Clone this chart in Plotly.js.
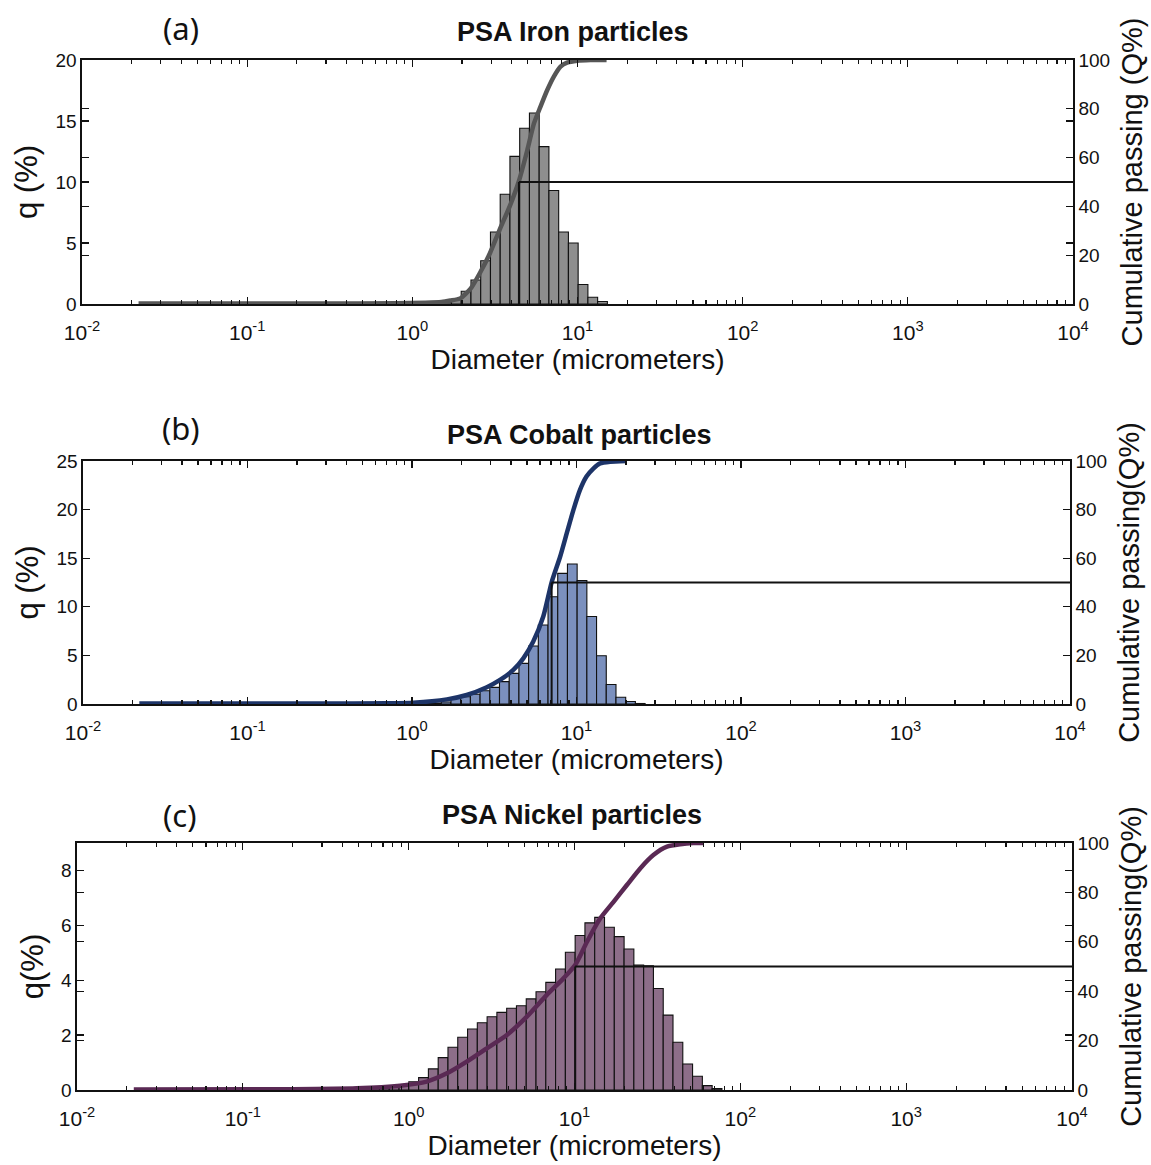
<!DOCTYPE html>
<html>
<head>
<meta charset="utf-8">
<script src="https://cdn.plot.ly/plotly-3.0.1.min.js"></script>
<style>html,body{margin:0;padding:0;background:#fff}</style>
</head>
<body>
<div id="chart" style="width:1151px;height:1165px"></div>
<script>
// ---------------- DATA ----------------
// Shared particle-size bin edges (micrometers)
const binEdges = [0.387,0.444,0.508,0.582,0.667,0.764,0.875,1.002,1.148,1.315,1.507,1.726,1.977,2.265,2.594,2.972,3.404,3.899,4.467,5.117,5.861,6.714,7.691,8.810,10.09,11.56,13.24,15.17,17.38,19.91,22.80,26.12,29.92,34.28,39.26,44.98,51.52,59.02,67.61,77.45,88.72];

// q (%) per bin
const ironQ   = [0,0,0,0,0,0,0,0,0,0.05,0.15,0.35,1.04,1.97,3.55,5.9,9.0,12.1,14.4,15.66,12.9,9.3,5.9,5.0,1.6,0.55,0.2,0,0,0,0,0,0,0,0,0,0,0,0,0];
const cobaltQ = [0,0,0,0,0,0,0,0.03,0.06,0.1,0.2,0.58,0.75,1.0,1.37,1.71,2.3,3.15,4.18,5.97,8.13,11.04,13.44,14.4,12.7,9.0,4.97,2.0,0.69,0.26,0.05,0,0,0,0,0,0,0,0,0];
const nickelQ = [0,0.03,0.05,0.07,0.1,0.13,0.2,0.3,0.45,0.77,1.18,1.56,1.92,2.22,2.45,2.67,2.83,2.98,3.07,3.32,3.58,3.92,4.41,5.02,5.63,6.09,6.29,5.93,5.59,5.14,4.55,4.53,3.7,2.73,1.74,0.95,0.5,0.16,0.05,0];

// Cumulative passing curves (Q %)
const ironCumD   = [0.022,0.3,0.8,1.2,1.5,1.7,1.95,2.26,2.57,2.95,3.37,3.88,4.42,4.97,5.45,5.97,6.56,7.19,7.89,8.65,9.96,12,15];
const ironCumQ   = [0.2,0.2,0.3,0.5,0.8,1.4,2.3,6.4,12.8,20.8,30.3,39.9,50.4,63.1,74.0,80.9,87.7,93.2,97.3,98.9,99.7,100,100];
const cobaltCumD = [0.022,0.3,0.7,1.02,1.63,2.15,2.85,3.43,4.13,4.75,5.46,6.28,7.06,7.95,8.72,9.57,10.5,11.5,12.7,13.9,16,20];
const cobaltCumQ = [0.2,0.2,0.3,0.55,1.9,3.7,6.9,9.9,14.0,18.8,25.7,36.0,50.1,60.6,70.2,79.8,88.1,93.6,97.0,99.0,99.7,100];
const nickelCumD = [0.022,0.2,0.486,0.887,1.285,1.70,2.24,2.96,3.91,5.16,6.81,8.58,10.1,11.9,14.3,17.2,20.7,24.9,29.9,36.1,43.4,52,60];
const nickelCumQ = [0.2,0.3,0.67,1.75,3.4,6.75,11.5,16.9,22.3,29.7,38.5,45.2,50.6,60.0,69.5,76.2,83.0,89.7,95.1,98.5,99.5,100,100];

// Median diameters (d50) and the 50 % level
const ironD50 = 4.42, cobaltD50 = 7.06, nickelD50 = 10.1;
const medianQ = 50;
const xMax = 10000;

// Axis tick labels
const xTickVals = [0.01,0.1,1,10,100,1000,10000];
const xTickText = ['10<sup>-2</sup>','10<sup>-1</sup>','10<sup>0</sup>','10<sup>1</sup>','10<sup>2</sup>','10<sup>3</sup>','10<sup>4</sup>'];

const panelTitles = ['PSA Iron particles','PSA Cobalt particles','PSA Nickel particles'];
const panelLabels = ['(a)','(b)','(c)'];
const leftTitles  = ['q (%)','q (%)','q(%)'];
const rightTitles = ['Cumulative passing (Q%)','Cumulative passing(Q%)','Cumulative passing(Q%)'];
const xTitle = 'Diameter (micrometers)';

// ---------------- STYLE / LAYOUT ----------------
const W = 1151, H = 1165;
const panels = [
  {q: ironQ,   cd: ironCumD,   cq: ironCumQ,   d50: ironD50,   ymax: 20, dy: 5, bar:'#8e8e8e', line:'#565656', px:[82,1073], py:[60,304],  titleXY:[573,32],  labelXY:[181,28]},
  {q: cobaltQ, cd: cobaltCumD, cq: cobaltCumQ, d50: cobaltD50, ymax: 25, dy: 5, bar:'#7b90be', line:'#1d3468', px:[83,1070], py:[461,704], titleXY:[579,435], labelXY:[181,428]},
  {q: nickelQ, cd: nickelCumD, cq: nickelCumQ, d50: nickelD50, ymax: 9,  dy: 2, bar:'#8d6e89', line:'#5a2954', px:[77,1072], py:[843,1090],titleXY:[572,815], labelXY:[179,815]}
];

const FONT = 'Liberation Sans, Arial, sans-serif';

const minorX = [];
for (let e = -2; e < 4; e++) for (let m = 2; m <= 9; m++) minorX.push(m * Math.pow(10, e));

const traces = [];
const layout = {
  width: W, height: H,
  margin: {l:0, r:0, t:0, b:0},
  paper_bgcolor: '#fff', plot_bgcolor: '#fff',
  showlegend: false,
  barmode: 'overlay',
  annotations: [],
  font: {family: FONT, color: '#111'}
};

panels.forEach((p, i) => {
  const n = i + 1;
  const xa = n === 1 ? 'x' : 'x' + n;
  const yl = 'y' + (2*i + 1 === 1 ? '' : (2*i + 1));
  const yr = 'y' + (2*i + 2);
  const xKey = n === 1 ? 'xaxis' : 'xaxis' + n;
  const ylKey = 'yaxis' + (2*i + 1 === 1 ? '' : (2*i + 1));
  const yrKey = 'yaxis' + (2*i + 2);

  // bars (only bins with data)
  const bx = [], bw = [], by = [];
  p.q.forEach((v, k) => {
    if (v > 0) {
      const a = binEdges[k], b = binEdges[k+1];
      bx.push((a + b) / 2); bw.push(b - a); by.push(v);
    }
  });
  traces.push({type:'bar', x: bx, y: by, width: bw, xaxis: xa, yaxis: yl,
    marker:{color: p.bar, line:{color:'#111', width:1.1}}});

  // cumulative curve
  traces.push({type:'scatter', mode:'lines', x: p.cd, y: p.cq, xaxis: xa, yaxis: yr,
    line:{color: p.line, width: 4.5, shape:'spline', smoothing: 0.6}});

  // d50 marker lines
  traces.push({type:'scatter', mode:'lines', x:[p.d50, xMax], y:[medianQ, medianQ], xaxis: xa, yaxis: yr,
    line:{color:'#111', width:1.8}});
  traces.push({type:'scatter', mode:'lines', x:[p.d50, p.d50], y:[0, medianQ], xaxis: xa, yaxis: yr,
    line:{color:'#111', width:2}});

  const xdom = [p.px[0]/W, p.px[1]/W];
  const ydom = [1 - p.py[1]/H, 1 - p.py[0]/H];

  layout[xKey] = {
    type:'log', range:[-2, 4], domain: xdom, anchor: yl,
    showline:true, linecolor:'#111', linewidth:1.6, mirror:'ticks',
    ticks:'inside', ticklen:7, tickwidth:1.3, tickcolor:'#111',
    tickmode:'array', tickvals: xTickVals, ticktext: xTickText,
    tickfont:{family: FONT, size: 21, color:'#111'}, ticklabelstandoff: 9,
    minor:{tickmode:'array', tickvals: minorX, ticks:'inside', ticklen:4, tickwidth:1.1, tickcolor:'#111', showgrid:false},
    showgrid:false, zeroline:false, fixedrange:true,
    title:{text: xTitle, font:{family: FONT, size: 28, color:'#111'}, standoff: 4}
  };
  layout[ylKey] = {
    range:[0, p.ymax], domain: ydom, anchor: xa,
    showline:true, linecolor:'#111', linewidth:1.6, mirror:'ticks',
    ticks:'inside', ticklen:7, tickwidth:1.3, tickcolor:'#111', dtick: p.dy, tick0: 0,
    tickfont:{family: FONT, size: 19, color:'#111'},
    showgrid:false, zeroline:false, fixedrange:true,
    title:{text: leftTitles[i], font:{family: FONT, size: 31, color:'#111'}, standoff: 8}
  };
  layout[yrKey] = {
    range:[0, 100], domain: ydom, anchor: xa, overlaying: yl, side:'right',
    showline:true, linecolor:'#111', linewidth:1.6, mirror:'ticks',
    ticks:'inside', ticklen:7, tickwidth:1.3, tickcolor:'#111', dtick: 20, tick0: 0,
    tickfont:{family: FONT, size: 19, color:'#111'},
    showgrid:false, zeroline:false, fixedrange:true,
    title:{text: rightTitles[i], font:{family: FONT, size: 29, color:'#111'}, standoff: 12}
  };

  layout.annotations.push({
    text: panelTitles[i], xref:'paper', yref:'paper',
    x: p.titleXY[0]/W, y: 1 - p.titleXY[1]/H, xanchor:'center', yanchor:'middle',
    showarrow:false, font:{family: FONT, size: 27, color:'#111', weight: 'bold'}
  });
  layout.annotations.push({
    text: panelLabels[i], xref:'paper', yref:'paper',
    x: p.labelXY[0]/W, y: 1 - p.labelXY[1]/H, xanchor:'center', yanchor:'middle',
    showarrow:false, font:{family: 'Noto Sans, Open Sans, sans-serif', size: 31, color:'#111'}
  });
});

Plotly.newPlot('chart', traces, layout, {displayModeBar:false, staticPlot:true});
</script>
</body>
</html>
